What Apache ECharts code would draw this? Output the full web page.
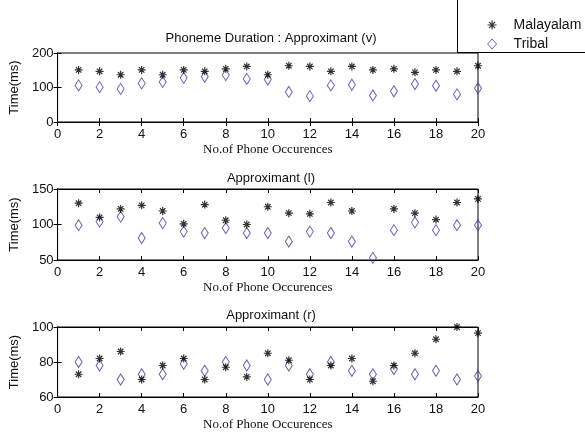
<!DOCTYPE html>
<html><head><meta charset="utf-8">
<script src="https://cdn.jsdelivr.net/npm/echarts@6/dist/echarts.min.js"></script>
<style>html,body{margin:0;padding:0;background:#fff}#c{width:585px;height:438px}</style>
</head><body><div id="c"></div>
<script>
const occurrences = [1,2,3,4,5,6,7,8,9,10,11,12,13,14,15,16,17,18,19,20];
const titles = ["Phoneme Duration : Approximant (v)", "Approximant (l)", "Approximant (r)"];
const seriesNames = ["Malayalam", "Tribal"];
const malV = [151,147,137,151,137,151,147,154,161,137,163,161,147,161,151,154,144,151,147,163];
const triV = [106,101,96,112,116,128,131,136,125,123,87,75,106,108,77,89,110,105,80,98];
const malL = [130,110,122,127,119,101,128,106,100,125,116,115,131,119,151,122,116,107,131,136];
const triL = [99,104,111,81,102,90,88,95,88,88,76,90,88,76,53,92,103,92,99,99];
const malR = [73,82,86,70,78,82,70,77,71.5,85,81,70,78,82,69,78,85,93,100,96.5];
const triR = [80,78,70,73,73,79,75,80,78,70,78,73,80,75,73,76,73,75,70,72];
const xTicks = [0,2,4,6,8,10,12,14,16,18,20];
const yRanges = [[0,200,100],[50,150,50],[60,100,20]];
const panels = [[malV,triV],[malL,triL],[malR,triR]];

const starPath = 'path://M0 5 L10 5 M5 0 L5 10 M1.6 1.6 L8.4 8.4 M8.4 1.6 L1.6 8.4';
const gridTops = [53, 189, 327];
const gridH = [69, 71, 70];
const titleY = [35, 175, 312];

const grids = [], xAxes = [], yAxes = [], series = [], titleOpts = [];
const sans = 'Liberation Sans, Arial, sans-serif';
for (let i = 0; i < 3; i++) {
  grids.push({left: 54, right: 107, top: gridTops[i], height: gridH[i], show: true, borderColor: '#000', borderWidth: 1, backgroundColor: '#fff'});
  titleOpts.push({text: titles[i], left: 266, top: titleY[i] - 8, textAlign: 'center',
    textStyle: {fontFamily: sans, fontSize: 13, fontWeight: 'normal', color: '#111'}});
  const common = {gridIndex: i, type: 'value', min: xTicks[0], max: xTicks[xTicks.length-1], interval: xTicks[1]-xTicks[0],
    axisLine: {show: true, lineStyle: {color: '#000', width: 1}},
    axisTick: {show: true, inside: true, length: 4, lineStyle: {color: '#000'}},
    splitLine: {show: false}};
  xAxes.push(Object.assign({}, common, {position: 'bottom',
    name: 'No.of Phone Occurences', nameLocation: 'middle', nameGap: 21,
    nameTextStyle: {fontFamily: 'Liberation Serif, Times New Roman, serif', fontSize: 13, color: '#111'},
    axisLabel: {show: true, margin: 6, fontFamily: sans, fontSize: 13, color: '#111', showMinLabel: true, showMaxLabel: true}}));
  xAxes.push(Object.assign({}, common, {position: 'top', axisLabel: {show: false}}));
  const yr = yRanges[i];
  const ycommon = {gridIndex: i, type: 'value', min: yr[0], max: yr[1], interval: yr[2],
    axisLine: {show: true, lineStyle: {color: '#000', width: 1}},
    axisTick: {show: true, inside: true, length: 4, lineStyle: {color: '#000'}},
    splitLine: {show: false}};
  yAxes.push(Object.assign({}, ycommon, {position: 'left',
    name: 'Time(ms)', nameLocation: 'middle', nameGap: 32,
    nameTextStyle: {fontFamily: sans, fontSize: 13, color: '#111'},
    axisLabel: {show: true, margin: 4, fontFamily: sans, fontSize: 13, color: '#111', showMinLabel: true, showMaxLabel: true}}));
  yAxes.push(Object.assign({}, ycommon, {position: 'right', axisLabel: {show: false}}));
  const [m, t] = panels[i];
  series.push({name: seriesNames[0], type: 'scatter', xAxisIndex: 2*i, yAxisIndex: 2*i,
    data: occurrences.map((x, k) => [x, m[k]]), symbol: starPath, symbolSize: 8,
    itemStyle: {color: 'rgba(0,0,0,0)', borderColor: '#000', borderWidth: 1.2}, z: 3});
  series.push({name: seriesNames[1], type: 'scatter', xAxisIndex: 2*i, yAxisIndex: 2*i,
    data: occurrences.map((x, k) => [x, t[k]]), symbol: 'diamond', symbolSize: [7, 11],
    itemStyle: {color: 'rgba(0,0,0,0)', borderColor: '#3c3c9c', borderWidth: 1}, z: 2});
}

const chart = echarts.init(document.getElementById('c'), null, {renderer: 'canvas'});
chart.setOption({
  animation: false,
  backgroundColor: '#fff',
  title: titleOpts,
  grid: grids, xAxis: xAxes, yAxis: yAxes, series: series,
  legend: {orient: 'vertical', left: 482, top: 13, itemGap: 5, itemWidth: 9, itemHeight: 10,
    textStyle: {fontFamily: sans, fontSize: 14, color: '#111', padding: [0,0,0,12]},
    data: [
      {name: seriesNames[0], icon: starPath, itemStyle: {color: 'rgba(0,0,0,0)', borderColor: '#000', borderWidth: 1.2}},
      {name: seriesNames[1], icon: 'diamond', itemStyle: {color: 'rgba(0,0,0,0)', borderColor: '#3c3c9c', borderWidth: 1}}
    ]},
  graphic: [{type: 'rect', shape: {x: 457.5, y: -2, width: 140, height: 54.5},
    style: {fill: 'none', stroke: '#000', lineWidth: 1}, z: 100, silent: true}]
});
</script></body></html>
